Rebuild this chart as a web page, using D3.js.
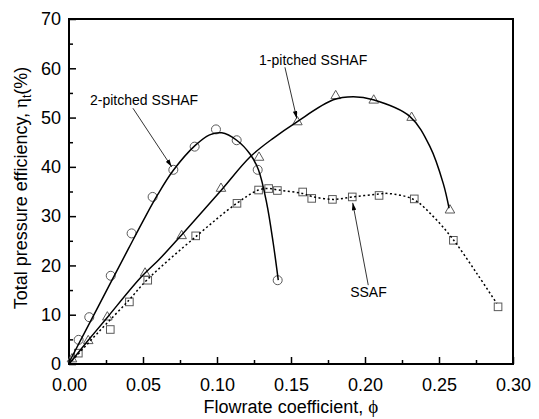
<!DOCTYPE html>
<html>
<head>
<meta charset="utf-8">
<script src="https://cdn.jsdelivr.net/npm/d3@7"></script>
<style>
    body { margin: 0; background: #fff; }
    text { font-family: Arial, "Liberation Sans", sans-serif; }
</style>
</head>
<body>
<div id="chart"></div>
<script>
// measured points (phi, eta %)
const circles2 = [[0.0065,4.9],[0.0137,9.5],[0.0282,17.9],[0.0423,26.5],[0.0565,33.9],[0.0705,39.4],
    [0.0849,44.1],[0.0993,47.6],[0.1133,45.4],[0.1275,39.4],[0.141,17.0]];
const triangles1 = [[0.002,1.0],[0.013,4.7],[0.0259,9.5],[0.0514,18.4],[0.0761,26.0],[0.1027,35.6],
    [0.1284,41.9],[0.1543,49.1],[0.1802,54.4],[0.2059,53.5],[0.2315,50.0],[0.2574,31.2]];
const squaresS = [[0.0063,2.2],[0.0279,7.0],[0.0408,12.6],[0.0532,17.0],[0.0856,26.0],[0.1135,32.6],
    [0.1281,35.3],[0.1349,35.6],[0.1408,35.2],[0.1579,34.9],[0.164,33.6],[0.178,33.4],[0.1914,33.9],
    [0.2095,34.2],[0.2333,33.5],[0.2597,25.1],[0.2899,11.6]];

// fitted curves
const fit2 = [[0,0.3],[0.02,11.8],[0.04,23.3],[0.05,29.0],[0.06,34.4],[0.0705,39.3],[0.0851,44.3],
    [0.095,46.5],[0.1032,46.9],[0.1133,45.4],[0.1223,42.6],[0.128,39.4],[0.1336,32.6],[0.138,24.5],[0.1414,17.0]];
const fit1 = [[0,0],[0.013,4.8],[0.026,9.5],[0.048,17.4],[0.0615,21.4],[0.077,26.5],[0.1027,35.2],
    [0.1223,42.0],[0.1384,45.9],[0.1538,49.1],[0.1786,53.6],[0.1921,54.2],[0.2056,53.6],[0.2304,50.2],
    [0.2439,44.1],[0.2529,36.6],[0.2568,31.6]];
const fitS = [[0,0],[0.02,6.5],[0.04,12.8],[0.0525,17.0],[0.0863,26.0],[0.1133,32.6],[0.128,35.3],
    [0.1347,35.6],[0.1414,35.3],[0.1579,34.6],[0.164,34.0],[0.1782,33.4],[0.1917,33.9],[0.2097,34.5],
    [0.2157,34.6],[0.2327,33.4],[0.2462,29.9],[0.2597,25.2],[0.2755,18.4],[0.289,12.3]];

const xTicks = [0, 0.05, 0.10, 0.15, 0.20, 0.25, 0.30];
const yTicks = [0, 10, 20, 30, 40, 50, 60, 70];

// annotation label, arrow start, arrow tip (data units)
const notes = [
    {label: "2-pitched SSHAF", at: [0.0142, 52.5], from: [0.0432, 51.9], to: [0.0694, 40.0]},
    {label: "1-pitched SSHAF", at: [0.1284, 60.6], from: [0.1459, 60.2], to: [0.1539, 49.8]},
    {label: "SSAF", at: [0.190, 13.6], from: [0.2022, 16.0], to: [0.1917, 32.7]}
];

const W = 539, H = 419;
const margin = {top: 19, right: 26, bottom: 55, left: 69};
const width = W - margin.left - margin.right;
const height = H - margin.top - margin.bottom;
const serif = "'Liberation Serif', 'Times New Roman', serif";

const svg = d3.select("#chart").append("svg")
    .attr("width", W)
    .attr("height", H);

svg.append("defs").append("marker")
    .attr("id", "arrow")
    .attr("viewBox", "0 0 10 6")
    .attr("refX", 10).attr("refY", 3)
    .attr("markerWidth", 8).attr("markerHeight", 4.5)
    .attr("markerUnits", "userSpaceOnUse")
    .attr("orient", "auto")
    .append("path")
    .attr("d", "M0,0 L10,3 L0,6 Z")
    .attr("fill", "#000");

const g = svg.append("g").attr("transform", `translate(${margin.left},${margin.top})`);

const x = d3.scaleLinear().domain([0, 0.30]).range([0, width]);
const y = d3.scaleLinear().domain([0, 70]).range([height, 0]);

// axes with inward ticks
const xMinor = d3.range(0.025, 0.30, 0.05);
const yMinor = d3.range(5, 70, 10);

g.append("g")
    .attr("transform", `translate(0,${height})`)
    .call(d3.axisBottom(x).tickValues(xTicks).tickSize(-7).tickPadding(14)
        .tickFormat(d3.format(".2f")))
    .call((a) => a.select(".domain").remove())
    .call((a) => a.selectAll("text").attr("font-size", 18).attr("fill", "#000"))
    .call((a) => a.selectAll("line").attr("stroke-width", 1.5));

g.append("g")
    .attr("transform", `translate(0,${height})`)
    .call(d3.axisBottom(x).tickValues(xMinor).tickSize(-4).tickFormat(""))
    .call((a) => a.select(".domain").remove())
    .call((a) => a.selectAll("line").attr("stroke-width", 1.5));

g.append("g")
    .call(d3.axisLeft(y).tickValues(yTicks).tickSize(-7).tickPadding(8))
    .call((a) => a.select(".domain").remove())
    .call((a) => a.selectAll("text").attr("font-size", 18).attr("fill", "#000"))
    .call((a) => a.selectAll("line").attr("stroke-width", 1.5));

g.append("g")
    .call(d3.axisLeft(y).tickValues(yMinor).tickSize(-4).tickFormat(""))
    .call((a) => a.select(".domain").remove())
    .call((a) => a.selectAll("line").attr("stroke-width", 1.5));

g.append("rect")
    .attr("width", width).attr("height", height)
    .attr("fill", "none").attr("stroke", "#000").attr("stroke-width", 2);

// markers (hollow, gray)
const mk = g.append("g").attr("fill", "none").attr("stroke", "#5a5a5a").attr("stroke-width", 1);

mk.selectAll("circle").data(circles2).enter().append("circle")
    .attr("cx", (d) => x(d[0])).attr("cy", (d) => y(d[1])).attr("r", 4.5);

const tri = d3.symbol().type(d3.symbolTriangle).size(40);
mk.selectAll(".tri").data(triangles1).enter().append("path")
    .attr("class", "tri")
    .attr("d", tri)
    .attr("transform", (d) => `translate(${x(d[0])},${y(d[1])})`);

mk.selectAll(".sq").data(squaresS).enter().append("rect")
    .attr("class", "sq")
    .attr("x", (d) => x(d[0]) - 3.8).attr("y", (d) => y(d[1]) - 3.8)
    .attr("width", 7.6).attr("height", 7.6);

// curves
const line = d3.line().x((d) => x(d[0])).y((d) => y(d[1])).curve(d3.curveCatmullRom.alpha(0.5));

g.append("path").datum(fit2).attr("d", line)
    .attr("fill", "none").attr("stroke", "#000").attr("stroke-width", 1.5);
g.append("path").datum(fit1).attr("d", line)
    .attr("fill", "none").attr("stroke", "#000").attr("stroke-width", 1.5);
g.append("path").datum(fitS).attr("d", line)
    .attr("fill", "none").attr("stroke", "#000").attr("stroke-width", 1.5)
    .attr("stroke-dasharray", "2,2.5");

// annotations
notes.forEach((n) => {
    g.append("line")
        .attr("x1", x(n.from[0])).attr("y1", y(n.from[1]))
        .attr("x2", x(n.to[0])).attr("y2", y(n.to[1]))
        .attr("stroke", "#000").attr("stroke-width", 0.8)
        .attr("marker-end", "url(#arrow)");
    g.append("text")
        .attr("x", x(n.at[0])).attr("y", y(n.at[1]))
        .attr("font-size", 14)
        .text(n.label);
});

// axis titles
svg.append("text")
    .attr("x", 291).attr("y", 413)
    .attr("text-anchor", "middle")
    .attr("font-size", 18)
    .call((t) => {
        t.append("tspan").text("Flowrate coefficient, ");
        t.append("tspan").attr("font-family", serif).attr("font-size", 19).text("\u03d5");
    });

svg.append("text")
    .attr("transform", "translate(27,188) rotate(-90)")
    .attr("text-anchor", "middle")
    .attr("font-size", 18)
    .call((t) => {
        t.append("tspan").text("Total pressure efficiency, ");
        t.append("tspan").attr("font-family", serif).attr("font-size", 19).text("\u03b7");
        t.append("tspan").attr("font-size", 12).attr("dy", 4).text("t");
        t.append("tspan").attr("dy", -4).text("(%)");
    });
</script>
</body>
</html>
